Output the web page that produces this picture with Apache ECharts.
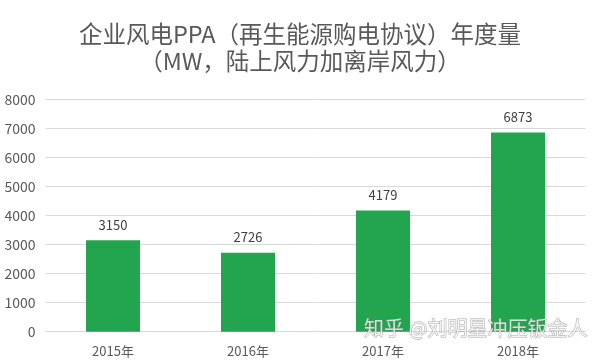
<!DOCTYPE html>
<html>
<head>
<meta charset="utf-8">
<script src="https://cdn.jsdelivr.net/npm/echarts@6/dist/echarts.min.js"></script>
<style>
html,body{margin:0;padding:0;background:#fff;}
#main{width:600px;height:364px;}
</style>
</head>
<body>
<div id="main"></div>
<script>
var titleText = '企业风电PPA（再生能源购电协议）年度量\n（MW，陆上风力加离岸风力）';
var categories = ['2015年', '2016年', '2017年', '2018年'];
var values = [3150, 2726, 4179, 6873];
var yTicks = [0, 1000, 2000, 3000, 4000, 5000, 6000, 7000, 8000];
var watermark = '知乎 @刘明星冲压钣金人';

var chart = echarts.init(document.getElementById('main'), null, {renderer: 'canvas'});
var font = '"Noto Sans CJK SC", "Noto Sans", sans-serif';
chart.setOption({
  animation: false,
  backgroundColor: '#fff',
  title: {
    text: titleText,
    left: 'center',
    top: 16,
    textStyle: {fontFamily: font, fontSize: 23.5, fontWeight: 'normal', color: '#595959', lineHeight: 27}
  },
  grid: {left: 45.5, right: 14.5, top: 99.7, bottom: 32.3, containLabel: false},
  xAxis: {
    type: 'category',
    data: categories,
    axisLine: {lineStyle: {color: '#d9d9d9'}},
    axisTick: {show: false},
    axisLabel: {fontFamily: font, fontSize: 13, color: '#595959', margin: 13}
  },
  yAxis: {
    type: 'value',
    min: yTicks[0],
    max: yTicks[yTicks.length - 1],
    interval: 1000,
    axisLine: {show: false},
    axisTick: {show: false},
    splitLine: {lineStyle: {color: '#d9d9d9'}},
    axisLabel: {fontFamily: font, fontSize: 14, color: '#595959', margin: 10,
      formatter: function (v) { return String(v); }}
  },
  series: [{
    type: 'bar',
    data: values,
    barCategoryGap: '60%',
    itemStyle: {color: '#23a54f'},
    label: {show: true, position: 'top', distance: 9, fontFamily: font, fontSize: 13, color: '#404040'}
  }],
  graphic: [{
    type: 'text',
    right: 12,
    top: 318,
    z: 100,
    style: {
      text: watermark,
      fontFamily: font,
      fontSize: 20,
      fill: 'rgba(255,255,255,0.75)',
      stroke: 'rgba(120,120,120,0.6)',
      lineWidth: 1
    }
  }]
});
</script>
</body>
</html>
